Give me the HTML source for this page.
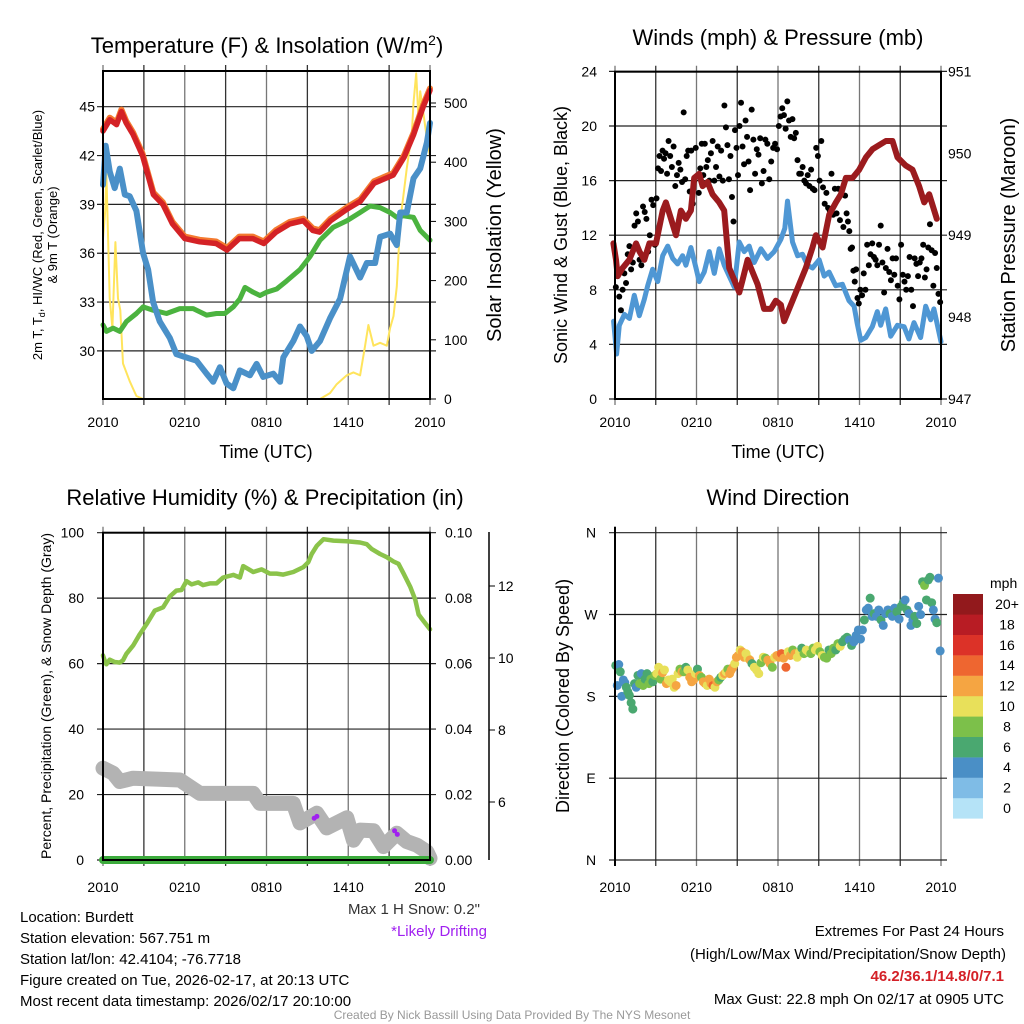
<!DOCTYPE html>
<html><head><meta charset="utf-8"><style>
body{margin:0;background:#fff;}
svg{display:block;font-family:"Liberation Sans",sans-serif;}
</style></head><body>
<svg id="s" width="1024" height="1024" viewBox="0 0 1024 1024" xmlns="http://www.w3.org/2000/svg">
<text x="267" y="53" font-size="22" text-anchor="middle">Temperature (F) &amp; Insolation (W/m<tspan dy="-8" font-size="14">2</tspan><tspan dy="8">)</tspan></text>
<text x="778" y="45" font-size="22" text-anchor="middle">Winds (mph) &amp; Pressure (mb)</text>
<text x="265" y="505" font-size="22" text-anchor="middle">Relative Humidity (%) &amp; Precipitation (in)</text>
<text x="778" y="505" font-size="22" text-anchor="middle">Wind Direction</text>
<text x="266" y="458" font-size="18" text-anchor="middle">Time (UTC)</text>
<text x="778" y="458" font-size="18" text-anchor="middle">Time (UTC)</text>
<text transform="translate(42,235) rotate(-90)" font-size="13" text-anchor="middle">2m T, T<tspan dy="3" font-size="9">d</tspan><tspan dy="-3">, HI/WC (Red, Green, Scarlet/Blue)</tspan></text>
<text transform="translate(57,235) rotate(-90)" font-size="13" text-anchor="middle">&amp; 9m T (Orange)</text>
<text transform="translate(501,235) rotate(-90)" font-size="20" text-anchor="middle">Solar Insolation (Yellow)</text>
<text transform="translate(567,235) rotate(-90)" font-size="18" text-anchor="middle">Sonic Wind &amp; Gust (Blue, Black)</text>
<text transform="translate(1015,235) rotate(-90)" font-size="20" text-anchor="middle">Station Pressure (Maroon)</text>
<text transform="translate(51,696) rotate(-90)" font-size="14" text-anchor="middle">Percent, Precipitation (Green), &amp; Snow Depth (Gray)</text>
<text transform="translate(569,696) rotate(-90)" font-size="18" text-anchor="middle">Direction (Colored By Speed)</text>
<g font-size="15">
<text x="20" y="922">Location: Burdett</text>
<text x="20" y="943">Station elevation: 567.751 m</text>
<text x="20" y="964">Station lat/lon: 42.4104; -76.7718</text>
<text x="20" y="985">Figure created on Tue, 2026-02-17, at 20:13 UTC</text>
<text x="20" y="1006">Most recent data timestamp: 2026/02/17 20:10:00</text>
</g>
<g font-size="15" text-anchor="end">
<text x="1004" y="936">Extremes For Past 24 Hours</text>
<text x="1006" y="959">(High/Low/Max Wind/Precipitation/Snow Depth)</text>
<text x="1004" y="981" fill="#d42027" font-weight="bold">46.2/36.1/14.8/0/7.1</text>
<text x="1004" y="1004">Max Gust: 22.8 mph On 02/17 at 0905 UTC</text>
</g>
<text x="480" y="914" font-size="15" text-anchor="end" fill="#333">Max 1 H Snow: 0.2"</text>
<text x="487" y="936" font-size="15" text-anchor="end" fill="#a020f0">*Likely Drifting</text>
<text x="512" y="1019" font-size="12" text-anchor="middle" fill="#999">Created By Nick Bassill Using Data Provided By The NYS Mesonet</text>
</svg>
<script>
// ---------- data ----------
const xTickLabels = ["2010","0210","0810","1410","2010"];
const tempHours = [0,0.5,1.0,1.35,1.7,2.2,2.9,3.7,4.4,5.1,6.0,7.1,8.3,9.1,10.0,11.0,11.8,12.7,13.7,14.7,15.4,15.9,16.7,17.9,18.9,19.9,21.3,22.1,22.8,23.5,24];
const tempValues = [43.5,44.2,43.9,44.7,44.0,43.3,42.0,39.6,39.0,37.8,36.9,36.7,36.6,36.2,36.9,36.9,36.6,37.3,37.8,38.0,37.4,37.3,38.0,38.7,39.2,40.3,40.8,41.9,43.3,45.0,46.0];
const chillHours = [0,0.2,0.5,0.86,1.23,1.6,1.96,2.45,2.94,3.31,3.68,4.17,4.9,5.39,6.1,6.86,7.6,8.09,8.58,9.07,9.56,10.05,10.78,11.27,11.76,12.5,13.0,13.23,13.97,14.46,14.95,15.32,15.93,16.66,17.4,18.13,18.87,19.36,19.97,20.34,21.07,21.56,21.81,22.3,22.79,23.28,23.77,24];
const chillValues = [40.2,42.6,41.0,40.0,41.2,39.6,39.5,38.6,36.0,35.0,33.0,31.8,30.8,29.8,29.6,29.4,28.6,28.1,29.0,28.0,27.7,28.8,28.5,29.2,28.4,28.6,28.1,29.6,30.6,31.5,30.9,30.0,30.6,32.0,33.2,35.8,34.5,35.4,35.4,37.0,37.2,36.5,38.5,38.5,40.6,41.2,42.8,44.0];
const dewHours = [0,0.25,0.74,1.23,1.72,2.45,2.94,3.68,4.66,5.64,6.62,7.6,8.33,8.95,9.56,10.05,10.42,11.03,11.52,12.0,12.75,13.48,14.46,15.2,15.93,16.9,17.9,18.87,19.6,20.34,21.07,21.56,22.05,22.79,23.28,24];
const dewValues = [31.6,31.2,31.4,31.2,31.8,32.3,32.7,32.5,32.3,32.6,32.6,32.2,32.3,32.3,32.7,33.2,33.9,33.6,33.4,33.6,33.8,34.3,35.0,35.8,36.8,37.6,38.0,38.5,38.9,38.8,38.5,38.2,38.3,38.2,37.4,36.8];
const solarHours = [0,0.17,0.25,0.49,0.69,0.91,1.10,1.27,1.47,1.96,2.45,2.94,15.93,16.66,17.15,17.89,18.38,18.87,19.24,19.48,19.85,20.34,20.83,21.07,21.32,21.56,21.81,22.3,22.67,22.79,22.99,23.16,23.28,23.53,23.77,24];
const solarValues = [270,320,380,170,120,265,170,150,60,30,5,0,0,10,25,40,45,40,90,125,90,95,90,120,140,190,300,390,450,500,550,470,520,480,440,410];
const windHours = [-0.1,0.12,0.32,0.69,1.06,1.42,1.79,2.16,2.41,2.77,3.14,3.51,3.88,4.25,4.61,4.98,5.22,5.59,5.96,6.2,6.57,6.94,7.31,7.67,8.04,8.41,8.78,9.14,9.51,9.88,10.25,10.74,11.23,11.72,12.21,12.5,12.7,13.07,13.44,13.8,14.17,14.54,15.03,15.4,15.76,16.25,16.74,17.23,17.6,17.84,18.09,18.46,18.94,19.31,19.56,19.93,20.3,20.79,21.28,21.64,22.01,22.5,22.87,23.24,23.48,24];
const windValues = [5.7,3.3,5.4,6.2,5.9,7.6,6.1,7.3,8.3,9.5,8.6,10.5,11.2,10.3,9.9,10.5,9.8,11.1,9.6,8.6,9.3,10.8,9.2,11.0,9.8,9.0,8.2,11.5,10.8,11.2,10.0,11.0,10.3,10.8,11.7,12.5,14.5,11.5,10.5,10.6,9.8,9.6,10.2,9.0,9.3,8.3,8.4,7.2,6.8,5.5,4.3,4.5,5.3,6.4,5.4,6.6,4.6,5.4,5.3,4.4,5.6,4.5,6.8,5.8,6.6,4.2];
const gustByHour = [
 [8.2,9.0,7.5,6.5,8.0,9.2,8.5,10.6],[11.2,9.5,10.0,12.7,13.6,13.0,10.2,9.8],[14.1,13.7,13.2,10.8,12.0,14.6,14.2,11.3],
 [14.7,16.9,17.8,16.7,18.2,17.6,18.0,16.5,18.9],[17.8,17.0,18.5,15.6,16.4,17.3,16.8,15.9],[21.0,16.1,17.8,18.2,15.2,18.2,14.3,16.0,18.4],
 [16.3,15.1,16.9,18.7,16.4,18.7,17.0,17.5,16.0],[18.0,18.9,16.0,17.0,18.5,16.3,18.2,16.0],[21.5,19.9,18.6,16.1,17.8,14.8,13.0,19.7,18.4],
 [16.4,20.0,21.7,18.5,17.2,20.4,19.2,17.4,15.3],[21.2,19.0,16.5,18.3,17.9,19.1,15.8,16.7],[19.0,18.7,16.1,17.4,18.4,18.7,18.3],
 [20.0,20.7,21.3,20.8,19.8,21.8,20.4,19.2],[20.5,19.1,19.5,17.5,16.5,16.5,17.0,16.0],[15.8,16.4,15.6,16.8,15.4,15.3,18.4,17.8],
 [16.0,18.9,15.5,14.3,15.1,14.0,13.8,16.5],[13.5,15.4,13.6,15.4,13.1,15.0,12.6,14.9],[13.6,13.0,12.3,11.0,11.1,9.4,8.6,9.5,7.4,7.0],
 [8.0,7.6,9.2,8.0,11.3,9.8,10.6,11.4],[10.4,10.2,9.8,11.3,12.7,10.0,7.8,9.6],[11.0,9.3,8.7,10.3,9.1,10.3,8.3,7.3],
 [11.3,9.1,8.6,8.0,9.0,10.4,8.0,6.8],[10.3,9.9,9.0,10.0,10.3,11.3,8.9,9.5],[11.1,12.8,10.9,8.3,10.7,9.6,7.7,7.1]];
const presHours = [-0.12,0.07,0.2,0.56,1.05,1.55,1.8,2.16,2.53,3.02,3.51,3.75,4.12,4.49,4.85,5.22,5.59,5.83,6.2,6.45,6.81,7.18,7.67,8.04,8.41,8.78,9.15,9.39,9.76,10.13,10.5,10.98,11.47,11.84,12.21,12.45,13.07,13.56,14.05,14.54,14.79,15.28,15.77,16.26,16.63,17.0,17.49,17.98,18.47,18.96,19.45,19.94,20.43,20.8,21.41,21.9,22.39,22.76,23.13,23.69];
const presValues = [948.9,948.7,948.5,948.6,948.7,948.9,948.8,948.7,948.9,948.9,949.3,949.4,949.2,949.0,949.3,949.2,949.3,949.7,949.75,949.6,949.65,949.5,949.4,949.3,948.6,948.45,948.3,948.45,948.7,948.55,948.4,948.1,948.1,948.2,948.15,947.95,948.2,948.4,948.6,948.85,949.0,948.85,949.25,949.4,949.5,949.7,949.7,949.8,949.95,950.05,950.1,950.15,950.15,949.95,949.85,949.8,949.6,949.4,949.5,949.2];
const rhHours = [0,0.12,0.25,0.49,0.86,1.23,1.47,1.72,2.21,2.7,3.19,3.8,4.41,4.9,5.39,5.76,6.13,6.5,6.99,7.35,7.84,8.33,8.82,9.56,10.05,10.29,11.03,11.64,12.25,12.74,13.23,13.97,14.71,15.07,15.32,15.69,16.18,16.91,17.89,18.87,19.36,19.73,20.34,20.83,21.32,21.69,22.06,22.55,22.92,23.16,23.53,24];
const rhValues = [62.5,61,59.8,61.2,60.5,60.3,61,63,65.5,69,72,76.2,77.2,80.5,82.3,82.5,85.2,84.2,84.8,84,84.5,84.5,86.3,87.1,86.3,89.8,88,88.8,87.5,87.5,87.2,88,89.5,91,93.5,96,98,97.6,97.4,97,96.5,95,93.5,92.5,91.2,90.5,87.5,83.5,79.5,75,73,70.5];
const snowHours = [0,0.74,1.23,2.21,5.64,7.11,11.03,11.52,13.97,14.46,15.69,16.42,17.89,18.38,18.87,19.85,20.59,21.56,22.3,23.04,23.77,24];
const snowValues = [6.94,6.8,6.57,6.66,6.61,6.24,6.24,5.96,5.96,5.42,5.69,5.28,5.56,4.94,5.22,5.2,4.76,5.13,4.9,4.8,4.62,4.44];
const driftHours = [15.5,15.7,21.4,21.6];
const driftValues = [5.55,5.6,5.2,5.1];
const precipHours = [0,24];
const precipValues = [0,0];
const dirByHour = [
 [[214,6],[192,4],[215,4],[207,6],[180,4],[198,4],[195,5],[190,6],[185,6]],
 [[181,6],[173,6],[166,6],[194,7],[190,4],[203,6],[194,8],[205,4]],
 [[192,8],[199,7],[205,6],[194,8],[199,8],[196,7],[203,8]],
 [[205,10],[212,10],[199,9],[206,12],[209,10],[194,12],[198,11]],
 [[196,10],[199,10],[190,11],[192,12],[205,10],[210,9],[207,12]],
 [[207,8],[212,6],[209,10],[201,12],[196,12],[198,13],[205,10]],
 [[210,7],[203,12],[201,8],[196,13],[194,12],[192,10],[199,12]],
 [[194,12],[192,15],[190,10],[196,12],[198,8],[201,6],[203,11]],
 [[205,12],[207,11],[210,8],[205,12],[209,13],[212,12],[216,10],[223,12]],
 [[225,13],[231,11],[229,12],[223,12],[227,10],[222,11],[220,12]],
 [[216,6],[212,11],[209,10],[205,10],[217,8],[223,10]],
 [[222,9],[220,12],[216,12],[212,8],[223,11],[225,13]],
 [[223,13],[227,14],[222,12],[212,15],[229,11],[225,12]],
 [[231,9],[227,12],[223,10],[229,10],[233,6],[227,9]],
 [[231,10],[229,10],[227,9],[233,8],[231,10],[235,10]],
 [[229,9],[225,10],[223,8],[222,8],[231,7],[227,8]],
 [[233,8],[231,7],[238,8],[235,10],[240,7],[243,6]],
 [[245,6],[242,5],[236,6],[240,4],[247,4],[253,4]],
 [[243,4],[253,4],[264,6],[275,4],[277,4],[288,6],[268,5]],
 [[271,6],[268,5],[275,5],[264,6],[258,4],[271,4]],
 [[275,5],[271,6],[268,4],[277,4],[273,6],[265,5]],
 [[279,6],[283,6],[286,4],[275,6],[271,4],[258,4],[264,5]],
 [[268,6],[260,6],[279,4],[270,5],[306,6],[302,8],[286,6]],
 [[308,6],[311,6],[283,6],[275,5],[265,4],[261,6],[310,4],[230,4]]];
const speedBins = ["0","2","4","6","8","10","12","14","16","18","20+"];
const speedColors = ["#b5e3f7","#7fbce6","#4a8fc6","#4aa870","#7cc04a","#e8e05a","#f5a542","#ee6630","#dc3228","#b81c24","#92191c"];

// ---------- helpers ----------
const NS="http://www.w3.org/2000/svg";
const svg=document.getElementById('s');
function mk(tag,attrs,parent){const e=document.createElementNS(NS,tag);for(const k in attrs)e.setAttribute(k,attrs[k]);(parent||svg).appendChild(e);return e;}
function xs(p){return h=>p.x0+(h/24)*(p.x1-p.x0);}
function pathD(hs,vs,fx,fy){return hs.map((h,i)=>(i?'L':'M')+fx(h).toFixed(1)+','+fy(vs[i]).toFixed(1)).join('');}
function frame(p,name,labOff){
 const g=mk('g',{});
 
 
 for(let i=0;i<=8;i++){
  const x=p.x0+i*(p.x1-p.x0)/8;
  const l=mk('line',{x1:x,x2:x,y1:p.y0-6,y2:p.y1+6,stroke:i%2?'#333':'#777','stroke-width':1.3},g);
  
  
 }
 xTickLabels.forEach((t,i)=>{
  const tx=mk('text',{x:p.x0+i*(p.x1-p.x0)/4,y:p.y1+labOff,'font-size':14,'text-anchor':'middle'},g);
  tx.textContent=t;
  
  
 });
 return g;
}
function hgrid(g,p,y,label,lx,anchor,col){
 const l=mk('line',{x1:p.x0-6,x2:p.x1+6,y1:y,y2:y,stroke:col||'#222','stroke-width':1.2},g);
 
 
 if(label!==null){
  const t=mk('text',{x:lx,y:y+5,'font-size':14,'text-anchor':anchor||'end'},g);
  t.textContent=label;
  
  
 }
}
function line(hs,vs,fx,fy,attrs,name){
 const e=mk('path',Object.assign({d:pathD(hs,vs,fx,fy),fill:'none','stroke-linejoin':'round','stroke-linecap':'round'},attrs));
 
 
 return e;
}

// ---------- Temperature panel ----------
const P1={x0:103,x1:430,y0:71,y1:399};
const x1s=xs(P1);
const yT=v=>106.7+(45-v)*16.28;
const yS=v=>399-v*0.592;
const g1=frame(P1,'temp-panel-grid',28);
[30,33,36,39,42,45].forEach(v=>hgrid(g1,P1,yT(v),String(v),95,'end'));
[0,100,200,300,400,500].forEach(v=>{const t=mk('text',{x:444,y:yS(v)+5,'font-size':14},g1);t.textContent=v;mk('line',{x1:430,x2:436,y1:yS(v),y2:yS(v),stroke:'#000'},g1);});
line(solarHours,solarValues,x1s,yS,{stroke:'#ffe45c','stroke-width':2},'solar-insolation-line');
line(dewHours,dewValues,x1s,yT,{stroke:'#4bb33f','stroke-width':5},'dewpoint-line');
line(chillHours,chillValues,x1s,yT,{stroke:'#4a90c8','stroke-width':6},'windchill-line');
line(tempHours,tempValues,x1s,yT,{stroke:'#f47a30','stroke-width':6,transform:'translate(0,-2)'},'temp-9m-line');
line(tempHours,tempValues,x1s,yT,{stroke:'#d42226','stroke-width':5.5},'temp-2m-line');
mk('rect',{x:P1.x0,y:P1.y0,width:P1.x1-P1.x0,height:P1.y1-P1.y0,fill:'none',stroke:'#000','stroke-width':2});

// ---------- Wind panel ----------
const P2={x0:615,x1:941,y0:71.7,y1:399};
const x2s=xs(P2);
const yW=v=>399-v*13.65;
const yP=v=>399-(v-947)*81.9;
const g2=frame(P2,'wind-panel-grid',28);
[0,4,8,12,16,20,24].forEach(v=>hgrid(g2,P2,yW(v),String(v),597,'end'));
[947,948,949,950,951].forEach(v=>{const t=mk('text',{x:948,y:yP(v)+5,'font-size':14},g2);t.textContent=v;});
line(windHours,windValues,x2s,yW,{stroke:'#4f97d4','stroke-width':5},'sonic-wind-line');
const gg=mk('g',{fill:'#000'});


gustByHour.forEach((arr,h)=>arr.forEach((v,i)=>{
 const c=mk('circle',{cx:x2s(h+(i+0.5)/arr.length),cy:yW(v),r:3},gg);
 
 
}));
line(presHours,presValues,x2s,yP,{stroke:'#9b1b1e','stroke-width':6},'pressure-line');
mk('rect',{x:P2.x0,y:P2.y0,width:P2.x1-P2.x0,height:P2.y1-P2.y0,fill:'none',stroke:'#000','stroke-width':2});

// ---------- RH panel ----------
const P3={x0:103,x1:430,y0:532.7,y1:860};
const x3s=xs(P3);
const yR=v=>860-v*3.273;
const ySn=v=>802-(v-6)*36;
const g3=frame(P3,'rh-panel-grid',32);
[0,20,40,60,80,100].forEach(v=>hgrid(g3,P3,yR(v),String(v),84,'end'));
["0.00","0.02","0.04","0.06","0.08","0.10"].forEach((t,i)=>{const e=mk('text',{x:445,y:yR(i*20)+5,'font-size':14},g3);e.textContent=t;});
mk('line',{x1:489,x2:489,y1:532,y2:860,stroke:'#000','stroke-width':1.5},g3);
[6,8,10,12].forEach(v=>{const e=mk('text',{x:498,y:ySn(v)+5,'font-size':14},g3);e.textContent=v;mk('line',{x1:489,x2:495,y1:ySn(v),y2:ySn(v),stroke:'#000'},g3);});
line(snowHours,snowValues,x3s,ySn,{stroke:'#b3b3b3','stroke-width':15},'snow-depth-line');
const dg=mk('g',{fill:'#a020f0'});


driftHours.forEach((h,i)=>{const c=mk('circle',{cx:x3s(h),cy:ySn(driftValues[i]),r:2.5},dg);});
line(rhHours,rhValues,x3s,yR,{stroke:'#8bc34a','stroke-width':4.5},'relative-humidity-line');
line(precipHours,precipValues,x3s,yR,{stroke:'#3cab3c','stroke-width':8},'precipitation-line');
mk('rect',{x:P3.x0,y:P3.y0,width:P3.x1-P3.x0,height:P3.y1-P3.y0,fill:'none',stroke:'#000','stroke-width':2});

// ---------- Direction panel ----------
const P4={x0:615,x1:941,y0:532.7,y1:860};
const x4s=xs(P4);
const yD=v=>860-v*(327.3/360);
const g4=frame(P4,'direction-panel-grid',32);
["N","E","S","W","N"].forEach((t,i)=>hgrid(g4,P4,yD(i*90),t,591,'middle'));
function sc(s){const i=Math.min(10,Math.floor(s/2));return speedColors[i];}
const pg=mk('g',{});


dirByHour.forEach((arr,h)=>arr.forEach((d,i)=>{
 const c=mk('circle',{cx:x4s(h+(i+0.5)/arr.length),cy:yD(d[0]),r:4.5,fill:sc(d[1])},pg);
 
 
}));
mk('line',{x1:P4.x0,x2:P4.x0,y1:P4.y0-6,y2:P4.y1+6,stroke:'#000','stroke-width':2});
const cb=mk('g',{});


const cbt=mk('text',{x:990,y:588,'font-size':14},cb);
cbt.textContent='mph';


speedBins.forEach((b,i)=>{
 const y=594+(10-i)*20.4;
 const r=mk('rect',{x:953,y:y,width:30,height:20.6,fill:speedColors[i]},cb);
 
 
 const t=mk('text',{x:1007,y:y+15,'font-size':14,'text-anchor':'middle'},cb);
 t.textContent=b;
 
 
});
</script>
</body></html>
